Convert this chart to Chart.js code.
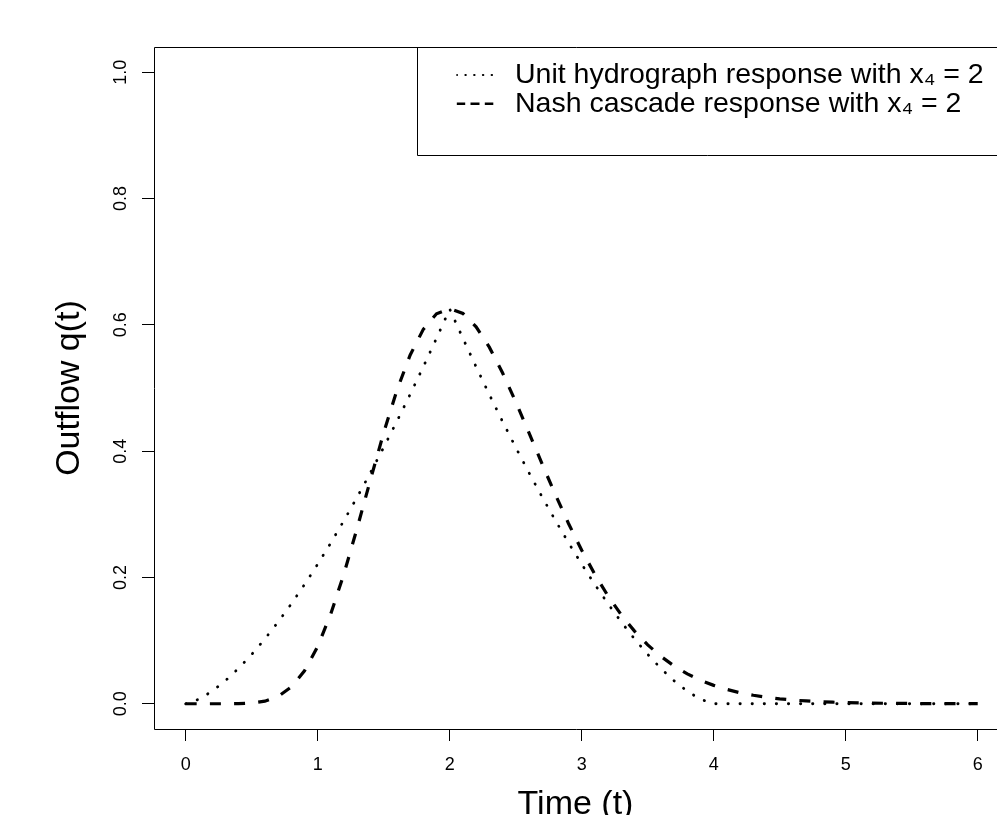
<!DOCTYPE html>
<html>
<head>
<meta charset="utf-8">
<script src="https://cdn.jsdelivr.net/npm/chart.js@4.4.1/dist/chart.umd.min.js"></script>
<style>
html, body { margin: 0; padding: 0; background: #ffffff; }
#wrap { width: 997px; height: 815px; position: relative; overflow: hidden; }
canvas { display: block; }
</style>
</head>
<body>
<div id="wrap"><canvas id="c" width="997" height="815"></canvas></div>
<script>
// ---- data ----
const timeValues = [
  0.0, 0.1, 0.2, 0.3, 0.4, 0.5, 0.6, 0.7, 0.8, 0.9,
  1.0, 1.1, 1.2, 1.3, 1.4, 1.5, 1.6, 1.7, 1.8, 1.9,
  2.0, 2.1, 2.2, 2.3, 2.4, 2.5, 2.6, 2.7, 2.8, 2.9,
  3.0, 3.1, 3.2, 3.3, 3.4, 3.5, 3.6, 3.7, 3.8, 3.9,
  4.0, 4.1, 4.2, 4.3, 4.4, 4.5, 4.6, 4.7, 4.8, 4.9,
  5.0, 5.1, 5.2, 5.3, 5.4, 5.5, 5.6, 5.7, 5.8, 5.9,
  6.0
];
const unitHydrograph = [
  0.0000, 0.0070, 0.0198, 0.0363, 0.0559, 0.0781, 0.1027, 0.1294, 0.1581, 0.1887,
  0.2210, 0.2549, 0.2905, 0.3275, 0.3660, 0.4060, 0.4472, 0.4898, 0.5336, 0.5787,
  0.6250, 0.5787, 0.5336, 0.4898, 0.4472, 0.4060, 0.3660, 0.3275, 0.2905, 0.2549,
  0.2210, 0.1887, 0.1581, 0.1294, 0.1027, 0.0781, 0.0559, 0.0363, 0.0198, 0.0070,
  0.0000, 0.0000, 0.0000, 0.0000, 0.0000, 0.0000, 0.0000, 0.0000, 0.0000, 0.0000,
  0.0000, 0.0000, 0.0000, 0.0000, 0.0000, 0.0000, 0.0000, 0.0000, 0.0000, 0.0000,
  0.0000
];
const nashCascade = [
  0.0000, 0.0000, 0.0000, 0.0000, 0.0002, 0.0011, 0.0041, 0.0115, 0.0265, 0.0521,
  0.0907, 0.1427, 0.2065, 0.2789, 0.3549, 0.4292, 0.4963, 0.5520, 0.5929, 0.6175,
  0.6256, 0.6180, 0.5969, 0.5647, 0.5242, 0.4782, 0.4293, 0.3798, 0.3314, 0.2855,
  0.2431, 0.2046, 0.1705, 0.1407, 0.1150, 0.0932, 0.0750, 0.0598, 0.0473, 0.0372,
  0.0291, 0.0226, 0.0174, 0.0134, 0.0102, 0.0078, 0.0059, 0.0044, 0.0033, 0.0025,
  0.0018, 0.0014, 0.0010, 0.0007, 0.0005, 0.0004, 0.0003, 0.0002, 0.0002, 0.0001,
  0.0001
];
const xTicks = [0, 1, 2, 3, 4, 5, 6];
const yTicks = [0.0, 0.2, 0.4, 0.6, 0.8, 1.0];
const seriesLabels = [
  'Unit hydrograph response with x\u2084 = 2',
  'Nash cascade response with x\u2084 = 2'
];
const xTitle = 'Time (t)';
const yTitle = 'Outflow q(t)';

// ---- styling ----
const FONT = '"Liberation Sans", Arial, Helvetica, sans-serif';
Chart.defaults.font.family = FONT;
Chart.defaults.color = '#000000';

const legendStyles = [
  { dash: [0.3, 8.45, 0.3, 8.45, 0.3, 8.45, 0.3, 8.45, 0.3, 80], width: 2.2, cap: 'round' },
  { dash: [8.5, 5.3, 9, 5.3, 8.5, 80], width: 2.5, cap: 'butt' }
];

const frameLayout = { legendFrameLeft: 417.5, legendFrameBottom: 155, legendLeft: 456.4, legendTop: 60.45 };

const rBoxPlugin = {
  id: 'rBox',
  afterLayout(chart) {
    const lg = chart.legend;
    if (!lg) return;
    lg.left = frameLayout.legendLeft;
    lg.top = frameLayout.legendTop;
    lg.right = chart.width;
    lg.bottom = frameLayout.legendFrameBottom + 20;
    lg.width = lg.right - lg.left;
    lg.height = lg.bottom - lg.top;
  },
  afterDraw(chart) {
    const ctx = chart.ctx;
    const a = chart.chartArea;
    ctx.save();
    ctx.strokeStyle = '#000000';
    ctx.lineWidth = 1;
    ctx.setLineDash([]);
    ctx.beginPath();
    const L = Math.round(a.left) + 0.5, T = Math.round(a.top) + 0.5, B = Math.round(a.bottom) + 0.5;
    ctx.moveTo(chart.width + 20, T);
    ctx.lineTo(L, T);
    ctx.lineTo(L, B);
    ctx.lineTo(chart.width + 20, B);
    ctx.moveTo(chart.width + 20, Math.round(frameLayout.legendFrameBottom) + 0.5);
    ctx.lineTo(frameLayout.legendFrameLeft, Math.round(frameLayout.legendFrameBottom) + 0.5);
    ctx.lineTo(frameLayout.legendFrameLeft, T);
    ctx.stroke();
    ctx.restore();
  }
};

new Chart(document.getElementById('c'), {
  type: 'line',
  data: {
    datasets: [
      {
        label: seriesLabels[0],
        data: timeValues.map((t, i) => ({ x: t, y: unitHydrograph[i] })),
        borderColor: '#000000',
        backgroundColor: '#000000',
        borderWidth: 2.8,
        borderDash: [0.3, 11.8],
        borderCapStyle: 'round',
        pointRadius: 0,
        tension: 0,
        fill: false
      },
      {
        label: seriesLabels[1],
        data: timeValues.map((t, i) => ({ x: t, y: nashCascade[i] })),
        borderColor: '#000000',
        backgroundColor: '#000000',
        borderWidth: 3.2,
        borderDash: [11, 13.2],
        borderCapStyle: 'butt',
        pointRadius: 0,
        tension: 0,
        fill: false
      }
    ]
  },
  options: {
    responsive: false,
    animation: false,
    devicePixelRatio: 1,
    events: [],
    layout: { padding: { top: 47, left: 0, right: 0, bottom: 0 } },
    scales: {
      x: {
        type: 'linear',
        min: -0.24,
        max: 6.146,
        afterBuildTicks: (s) => { s.ticks = xTicks.map(v => ({ value: v })); },
        afterFit: (s) => { s.height = 86; },
        border: { display: false },
        grid: { drawOnChartArea: false, drawTicks: true, tickLength: 12, color: '#000000', lineWidth: 1 },
        ticks: {
          autoSkip: false, maxRotation: 0, minRotation: 0,
          font: { size: 18 }, color: '#000000', padding: 13.7,
          callback: (v) => String(v)
        },
        title: {
          display: true, text: xTitle, color: '#000000',
          font: { size: 34 }, padding: { top: 0, bottom: -10.5 }
        }
      },
      y: {
        type: 'linear',
        min: -0.04,
        max: 1.04,
        afterBuildTicks: (s) => { s.ticks = yTicks.map(v => ({ value: v })); },
        afterFit: (s) => { s.width = 154; },
        border: { display: false },
        grid: { drawOnChartArea: false, drawTicks: true, tickLength: 12, color: '#000000', lineWidth: 1 },
        ticks: {
          autoSkip: false, minRotation: 90, maxRotation: 90, crossAlign: 'center',
          font: { size: 18 }, color: '#000000', padding: 8.5,
          callback: (v) => Number(v).toFixed(1)
        },
        title: {
          display: true, text: yTitle, color: '#000000',
          font: { size: 34 }, padding: { top: 49.4, bottom: 0 }
        }
      }
    },
    plugins: {
      tooltip: { enabled: false },
      title: { display: false },
      legend: {
        display: true,
        position: 'chartArea',
        align: 'start',
        labels: {
          font: { size: 28.5 },
          color: '#000000',
          padding: 0.3,
          boxWidth: 44,
          usePointStyle: true,
          pointStyle: 'line',
          pointStyleWidth: 44,
          generateLabels: (chart) => chart.data.datasets.map((ds, i) => ({
            text: ds.label,
            fillStyle: '#000000',
            strokeStyle: '#000000',
            fontColor: '#000000',
            lineWidth: legendStyles[i].width,
            lineDash: legendStyles[i].dash,
            lineCap: legendStyles[i].cap,
            lineDashOffset: 0,
            lineJoin: 'miter',
            pointStyle: 'line',
            rotation: 0,
            hidden: false,
            textAlign: 'left',
            datasetIndex: i
          }))
        }
      }
    }
  },
  plugins: [rBoxPlugin]
});
</script>
</body>
</html>
